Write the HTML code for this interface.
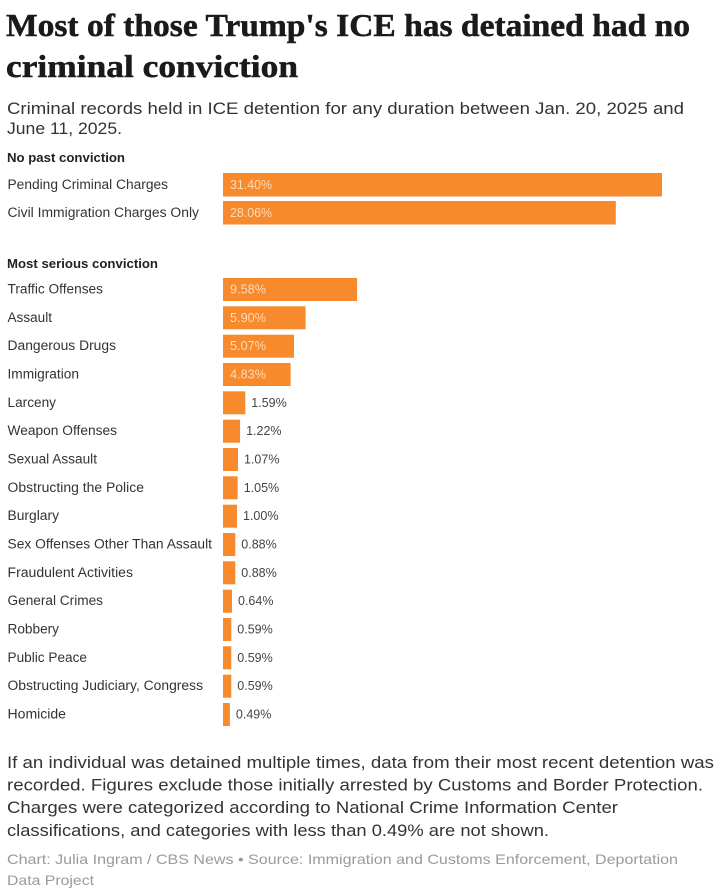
<!DOCTYPE html>
<html><head><meta charset="utf-8"><style>
html,body{margin:0;padding:0;background:#fff;}
svg{display:block;}
.t{font-family:"Liberation Serif",serif;font-weight:700;font-size:32px;fill:#1a1a1a;stroke:#1a1a1a;stroke-width:0.5px;}
.s{font-family:"Liberation Sans",sans-serif;font-size:17px;fill:#333;}
.h{font-family:"Liberation Sans",sans-serif;font-weight:700;font-size:13px;fill:#222;}
.l{font-family:"Liberation Sans",sans-serif;font-size:13.5px;fill:#333;}
.vi{font-family:"Liberation Sans",sans-serif;font-size:13px;fill:#fddcbc;}
.vo{font-family:"Liberation Sans",sans-serif;font-size:12.5px;fill:#444;}
.c{font-family:"Liberation Sans",sans-serif;font-size:14px;fill:#9a9a9a;}
</style></head><body>
<svg width="720" height="896" viewBox="0 0 720 896" xmlns="http://www.w3.org/2000/svg">
<rect width="720" height="896" fill="#fff"/>
<text class="t" x="6" y="36" textLength="684" lengthAdjust="spacingAndGlyphs">Most of those Trump's ICE has detained had no</text>
<text class="t" x="6" y="77" textLength="292" lengthAdjust="spacingAndGlyphs">criminal conviction</text>
<text class="s" x="7" y="114" textLength="677" lengthAdjust="spacingAndGlyphs">Criminal records held in ICE detention for any duration between Jan. 20, 2025 and</text>
<text class="s" x="7" y="134" textLength="115" lengthAdjust="spacingAndGlyphs">June 11, 2025.</text>

<text class="h" x="7" y="162" textLength="118" lengthAdjust="spacingAndGlyphs">No past conviction</text>
<g fill="#f68a2c">
<rect x="223" y="173" width="439" height="23.5"/>
<rect x="223" y="201" width="392.8" height="23.5"/>
</g>
<text class="l" x="7.5" y="189" textLength="160.5" lengthAdjust="spacingAndGlyphs">Pending Criminal Charges</text>
<text class="l" x="7.5" y="217" textLength="191.5" lengthAdjust="spacingAndGlyphs">Civil Immigration Charges Only</text>
<text class="vi" x="230" y="189" textLength="42" lengthAdjust="spacingAndGlyphs">31.40%</text>
<text class="vi" x="230" y="217" textLength="42" lengthAdjust="spacingAndGlyphs">28.06%</text>

<text class="h" x="7" y="268" textLength="151" lengthAdjust="spacingAndGlyphs">Most serious conviction</text>
<g fill="#f68a2c">
<rect x="223" y="278" width="134.1" height="23"/>
<rect x="223" y="306.3" width="82.6" height="23"/>
<rect x="223" y="334.7" width="71.0" height="23"/>
<rect x="223" y="363" width="67.6" height="23"/>
<rect x="223" y="391.3" width="22.3" height="23"/>
<rect x="223" y="419.7" width="17.1" height="23"/>
<rect x="223" y="448" width="15.0" height="23"/>
<rect x="223" y="476.3" width="14.7" height="23"/>
<rect x="223" y="504.7" width="14.0" height="23"/>
<rect x="223" y="533" width="12.3" height="23"/>
<rect x="223" y="561.3" width="12.3" height="23"/>
<rect x="223" y="589.7" width="9.0" height="23"/>
<rect x="223" y="618" width="8.3" height="23"/>
<rect x="223" y="646.3" width="8.3" height="23"/>
<rect x="223" y="674.7" width="8.3" height="23"/>
<rect x="223" y="703" width="6.9" height="23"/>
</g>
<text class="l" x="7.5" y="293.5" textLength="95.5" lengthAdjust="spacingAndGlyphs">Traffic Offenses</text>
<text class="l" x="7.5" y="321.8" textLength="44.5" lengthAdjust="spacingAndGlyphs">Assault</text>
<text class="l" x="7.5" y="350.2" textLength="108.5" lengthAdjust="spacingAndGlyphs">Dangerous Drugs</text>
<text class="l" x="7.5" y="378.5" textLength="71.5" lengthAdjust="spacingAndGlyphs">Immigration</text>
<text class="l" x="7.5" y="406.8" textLength="48.5" lengthAdjust="spacingAndGlyphs">Larceny</text>
<text class="l" x="7.5" y="435.2" textLength="109.5" lengthAdjust="spacingAndGlyphs">Weapon Offenses</text>
<text class="l" x="7.5" y="463.5" textLength="89.5" lengthAdjust="spacingAndGlyphs">Sexual Assault</text>
<text class="l" x="7.5" y="491.8" textLength="136.5" lengthAdjust="spacingAndGlyphs">Obstructing the Police</text>
<text class="l" x="7.5" y="520.2" textLength="51.5" lengthAdjust="spacingAndGlyphs">Burglary</text>
<text class="l" x="7.5" y="548.5" textLength="204.5" lengthAdjust="spacingAndGlyphs">Sex Offenses Other Than Assault</text>
<text class="l" x="7.5" y="576.8" textLength="125.5" lengthAdjust="spacingAndGlyphs">Fraudulent Activities</text>
<text class="l" x="7.5" y="605.2" textLength="95.5" lengthAdjust="spacingAndGlyphs">General Crimes</text>
<text class="l" x="7.5" y="633.5" textLength="51.5" lengthAdjust="spacingAndGlyphs">Robbery</text>
<text class="l" x="7.5" y="661.8" textLength="79.5" lengthAdjust="spacingAndGlyphs">Public Peace</text>
<text class="l" x="7.5" y="690.2" textLength="195.5" lengthAdjust="spacingAndGlyphs">Obstructing Judiciary, Congress</text>
<text class="l" x="7.5" y="718.5" textLength="58.5" lengthAdjust="spacingAndGlyphs">Homicide</text>

<text class="vi" x="230" y="293.5" textLength="36" lengthAdjust="spacingAndGlyphs">9.58%</text>
<text class="vi" x="230" y="321.8" textLength="36" lengthAdjust="spacingAndGlyphs">5.90%</text>
<text class="vi" x="230" y="350.2" textLength="36" lengthAdjust="spacingAndGlyphs">5.07%</text>
<text class="vi" x="230" y="378.5" textLength="36" lengthAdjust="spacingAndGlyphs">4.83%</text>
<text class="vo" x="251.3" y="406.8">1.59%</text>
<text class="vo" x="246.1" y="435.2">1.22%</text>
<text class="vo" x="244" y="463.5">1.07%</text>
<text class="vo" x="243.7" y="491.8">1.05%</text>
<text class="vo" x="243" y="520.2">1.00%</text>
<text class="vo" x="241.3" y="548.5">0.88%</text>
<text class="vo" x="241.3" y="576.8">0.88%</text>
<text class="vo" x="238" y="605.2">0.64%</text>
<text class="vo" x="237.3" y="633.5">0.59%</text>
<text class="vo" x="237.3" y="661.8">0.59%</text>
<text class="vo" x="237.3" y="690.2">0.59%</text>
<text class="vo" x="235.9" y="718.5">0.49%</text>

<text class="s" x="7" y="768" textLength="707" lengthAdjust="spacingAndGlyphs">If an individual was detained multiple times, data from their most recent detention was</text>
<text class="s" x="7" y="790.5" textLength="696" lengthAdjust="spacingAndGlyphs">recorded. Figures exclude those initially arrested by Customs and Border Protection.</text>
<text class="s" x="7" y="813" textLength="611" lengthAdjust="spacingAndGlyphs">Charges were categorized according to National Crime Information Center</text>
<text class="s" x="7" y="836" textLength="542" lengthAdjust="spacingAndGlyphs">classifications, and categories with less than 0.49% are not shown.</text>
<text class="c" x="7" y="864" textLength="671" lengthAdjust="spacingAndGlyphs">Chart: Julia Ingram / CBS News • Source: Immigration and Customs Enforcement, Deportation</text>
<text class="c" x="7" y="885" textLength="87" lengthAdjust="spacingAndGlyphs">Data Project</text>
</svg>
</body></html>
